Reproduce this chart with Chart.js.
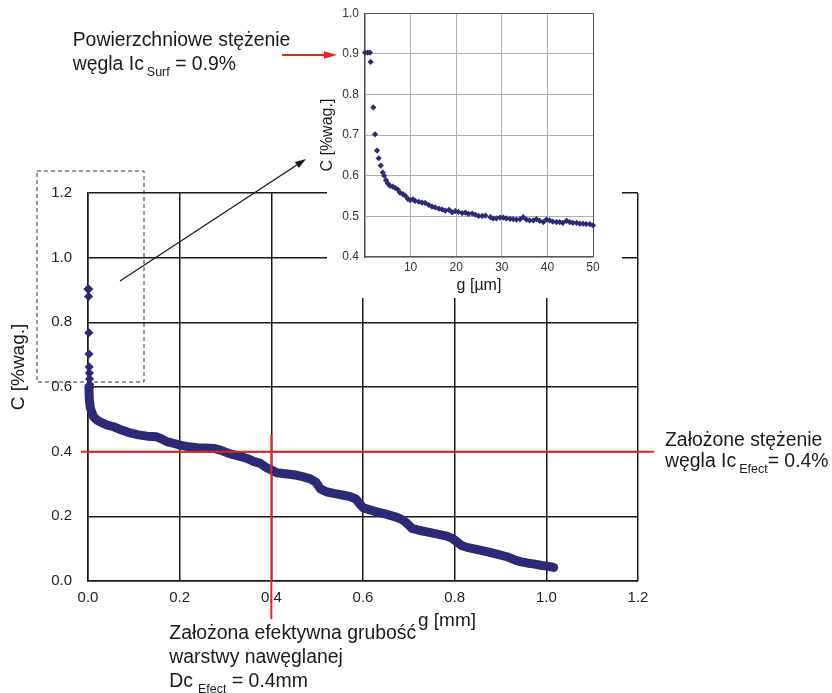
<!DOCTYPE html>
<html>
<head>
<meta charset="utf-8">
<script src="https://cdn.jsdelivr.net/npm/chart.js@4.4.1/dist/chart.umd.min.js"></script>
<style>
  html, body { margin: 0; padding: 0; background: #fff; }
  #page { position: relative; width: 832px; height: 693px; overflow: hidden;
          font-family: 'Liberation Sans', Arial, sans-serif; color: #1a1a1a; }
  #main { position: absolute; left: 0; top: 0; }
  #inset { position: absolute; left: 312px; top: 0; }
  .note { position: absolute; font-size: 19.4px; white-space: nowrap; }
  .note sub { font-size: 12.5px; vertical-align: -6px; line-height: 0; margin-left: 3px; }
  .axis-title { position: absolute; font-size: 19px; white-space: nowrap; line-height: 22px; }
</style>
</head>
<body>
<div id="page">
  <canvas id="main" width="832" height="693"></canvas>
  <canvas id="inset" width="310" height="298"></canvas>

  <div class="axis-title" style="left:-42.5px; top:355.5px; width:120px; text-align:center; transform:rotate(-90deg);">C [%wag.]</div>
  <div class="axis-title" style="left:418px; top:609px;">g [mm]</div>

  <div class="note" style="left:72.7px; top:27.4px; line-height:24px;">Powierzchniowe stężenie<br>węgla Ic<sub>Surf</sub> = 0.9%</div>
  <div class="note" style="left:665px; top:429px; line-height:21px;">Założone stężenie<br>węgla Ic<sub>Efect</sub>= 0.4%</div>
  <div class="note" style="left:169.3px; top:620.4px; line-height:24px;">Założona efektywna grubość<br>warstwy nawęglanej<br>Dc<sub style="margin-left:5px">Efect</sub> = 0.4mm</div>
</div>

<script>
// inset: first 50 µm of the profile (depth in µm, carbon in %wag.)
const insetDepthUm = [0.0, 0.6, 1.1, 1.24, 1.82, 2.19, 2.63, 3.0, 3.45, 3.9, 4.2, 4.6, 5.0, 5.5, 6.1, 6.6,
  7.2, 7.7, 8.3, 8.8, 9.4, 9.9, 10.5, 11.0, 11.8, 12.5, 13.2, 14.0, 14.7, 15.4, 16.2, 16.9, 17.6, 18.4,
  19.1, 19.8, 20.5, 21.3, 22.0, 22.7, 23.5, 24.2, 24.9, 25.7, 26.4, 27.5, 28.1, 28.8, 29.6, 30.3, 31.0,
  31.8, 32.5, 33.2, 34.0, 34.7, 35.4, 36.1, 36.9, 37.6, 38.3, 39.1, 39.8, 40.5, 41.2, 42.0, 42.7, 43.4,
  44.2, 44.9, 45.6, 46.4, 47.1, 47.8, 48.5, 49.3, 50.0];
const insetCarbon = [0.903, 0.903, 0.903, 0.880, 0.768, 0.702, 0.662, 0.643, 0.625, 0.608, 0.600, 0.589,
  0.581, 0.575, 0.573, 0.570, 0.566, 0.558, 0.555, 0.551, 0.543, 0.540, 0.542, 0.538, 0.536, 0.534, 0.533,
  0.528, 0.524, 0.522, 0.519, 0.517, 0.514, 0.516, 0.510, 0.513, 0.511, 0.508, 0.509, 0.506, 0.507, 0.504,
  0.501, 0.501, 0.502, 0.498, 0.495, 0.495, 0.497, 0.497, 0.495, 0.494, 0.493, 0.492, 0.493, 0.498, 0.492,
  0.490, 0.490, 0.493, 0.489, 0.486, 0.492, 0.490, 0.487, 0.486, 0.486, 0.484, 0.489, 0.486, 0.484, 0.484,
  0.482, 0.482, 0.481, 0.481, 0.478];

// main chart: dense measurement band (depth in mm, carbon in %wag.)
const bandDepthMm = [0.002, 0.003, 0.005, 0.012, 0.020, 0.027, 0.040, 0.056, 0.075, 0.092, 0.110, 0.129,
  0.150, 0.160, 0.172, 0.186, 0.201, 0.220, 0.238, 0.256, 0.274, 0.289, 0.310, 0.330, 0.347, 0.361, 0.376,
  0.390, 0.398, 0.412, 0.435, 0.456, 0.470, 0.485, 0.497, 0.507, 0.520, 0.536, 0.555, 0.572, 0.585, 0.592,
  0.601, 0.615, 0.630, 0.652, 0.674, 0.685, 0.692, 0.707, 0.722, 0.739, 0.760, 0.783, 0.795, 0.805, 0.815,
  0.827, 0.850, 0.870, 0.892, 0.914, 0.930, 0.943, 0.960, 0.972, 0.990, 1.001, 1.016];
const bandCarbon = [0.600, 0.560, 0.535, 0.508, 0.497, 0.492, 0.483, 0.477, 0.466, 0.458, 0.452, 0.448,
  0.446, 0.440, 0.431, 0.426, 0.420, 0.415, 0.412, 0.411, 0.410, 0.405, 0.393, 0.386, 0.379, 0.370, 0.364,
  0.350, 0.345, 0.335, 0.331, 0.327, 0.322, 0.316, 0.306, 0.285, 0.276, 0.271, 0.266, 0.261, 0.253, 0.240,
  0.226, 0.220, 0.214, 0.206, 0.197, 0.190, 0.183, 0.163, 0.157, 0.152, 0.146, 0.139, 0.132, 0.121, 0.110,
  0.104, 0.097, 0.091, 0.083, 0.075, 0.066, 0.060, 0.055, 0.053, 0.048, 0.046, 0.042];

// assumed effective values marked with red lines
const icSurf = 0.9;
const icEfect = 0.4;
const dcEfect = 0.4;

const navy = '#2c2a76';
const red = '#e3241f';
const ink = '#1a1a1a';
const fontFamily = "'Liberation Sans', Arial, sans-serif";

// sparse near-surface diamonds in the main chart come from the inset readings
const surfacePoints = [];
insetDepthUm.forEach((d, i) => {
  if (d <= 4.2) surfacePoints.push({x: d / 1000, y: insetCarbon[i]});
});
const bandPoints = bandDepthMm.map((d, i) => ({x: d, y: bandCarbon[i]}));
const insetPoints = insetDepthUm.map((d, i) => ({x: d, y: insetCarbon[i]}));

function arrow(ctx, x1, y1, x2, y2, color, width, headLen, headW) {
  const a = Math.atan2(y2 - y1, x2 - x1);
  const bx = x2 - headLen * Math.cos(a);
  const by = y2 - headLen * Math.sin(a);
  ctx.strokeStyle = color;
  ctx.fillStyle = color;
  ctx.lineWidth = width;
  ctx.beginPath();
  ctx.moveTo(x1, y1);
  ctx.lineTo(bx, by);
  ctx.stroke();
  ctx.beginPath();
  ctx.moveTo(x2, y2);
  ctx.lineTo(bx + headW * Math.sin(a), by - headW * Math.cos(a));
  ctx.lineTo(bx - headW * Math.sin(a), by + headW * Math.cos(a));
  ctx.closePath();
  ctx.fill();
}

const mainDecor = {
  id: 'mainDecor',
  afterDraw(chart) {
    const {ctx, chartArea, scales: {x, y}} = chart;
    ctx.save();
    // white panel the inset sits on
    ctx.fillStyle = '#fff';
    ctx.fillRect(327, 0, 295, 298);

    // dashed frame of the zoomed region
    ctx.strokeStyle = '#333';
    ctx.lineWidth = 1;
    ctx.setLineDash([4, 3]);
    ctx.strokeRect(37, 171, 107, 211);
    ctx.setLineDash([]);

    // pointers
    arrow(ctx, 120, 281, 306, 159, ink, 1.3, 11, 3.5);
    arrow(ctx, 282, 55, 337, 55, red, 2, 13, 3.8);

    // effective concentration and depth
    ctx.strokeStyle = red;
    ctx.lineWidth = 2;
    const yc = y.getPixelForValue(icEfect);
    ctx.beginPath();
    ctx.moveTo(chartArea.left - 7, yc);
    ctx.lineTo(chartArea.right + 16, yc);
    ctx.stroke();
    const xd = x.getPixelForValue(dcEfect);
    ctx.beginPath();
    ctx.moveTo(xd, y.getPixelForValue(0.452));
    ctx.lineTo(xd, chartArea.bottom + 38);
    ctx.stroke();
    ctx.restore();
  }
};

new Chart(document.getElementById('main'), {
  type: 'scatter',
  data: {
    datasets: [
      {
        data: bandPoints,
        showLine: true,
        borderColor: navy,
        borderWidth: 9,
        borderCapStyle: 'round',
        borderJoinStyle: 'round',
        pointRadius: 0,
        clip: false
      },
      {
        data: surfacePoints,
        pointStyle: 'rectRot',
        pointRadius: 4.6,
        backgroundColor: navy,
        borderWidth: 0,
        clip: false
      }
    ]
  },
  options: {
    responsive: false,
    animation: false,
    events: [],
    layout: {padding: {left: 0, top: 193, right: 194, bottom: 0}},
    plugins: {legend: {display: false}, tooltip: {enabled: false}},
    scales: {
      x: {
        type: 'linear', min: 0, max: 1.2,
        ticks: {stepSize: 0.2, padding: 8, color: '#222', font: {family: fontFamily, size: 15},
          callback: v => v.toFixed(1)},
        grid: {color: ink, lineWidth: 1.5, drawTicks: false},
        border: {color: ink, width: 1.5},
        afterFit: s => { s.height = 112; }
      },
      y: {
        type: 'linear', min: 0, max: 1.2,
        ticks: {stepSize: 0.2, padding: 16, color: '#222', font: {family: fontFamily, size: 15},
          callback: v => v.toFixed(1)},
        grid: {color: ink, lineWidth: 1.5, drawTicks: false},
        border: {color: ink, width: 1.5},
        afterFit: s => { s.width = 88; }
      }
    }
  },
  plugins: [mainDecor]
});

new Chart(document.getElementById('inset'), {
  type: 'scatter',
  data: {
    datasets: [{
      data: insetPoints,
      pointStyle: 'rectRot',
      pointRadius: 3.1,
      backgroundColor: navy,
      borderWidth: 0,
      clip: false
    }]
  },
  options: {
    responsive: false,
    animation: false,
    events: [],
    layout: {padding: {left: 0, top: 13, right: 29, bottom: 0}},
    plugins: {legend: {display: false}, tooltip: {enabled: false}},
    scales: {
      x: {
        type: 'linear', min: 0, max: 50,
        ticks: {stepSize: 10, padding: 3, color: '#333', font: {family: fontFamily, size: 12},
          callback: v => (v === 0 ? '' : v)},
        grid: {color: c => (c.tick && c.tick.value === 50 ? '#555' : '#b0b0b0'), lineWidth: 1, drawTicks: false},
        border: {color: '#555', width: 1.2},
        title: {display: true, text: 'g [µm]', color: ink, padding: {top: 0, bottom: 2.4},
          font: {family: fontFamily, size: 16}},
        afterFit: s => { s.height = 41; }
      },
      y: {
        type: 'linear', min: 0.4, max: 1.0,
        ticks: {stepSize: 0.1, padding: 6, color: '#333', font: {family: fontFamily, size: 12},
          callback: v => v.toFixed(1)},
        grid: {color: c => (c.tick && Math.abs(c.tick.value - 1) < 1e-6 ? '#555' : '#b0b0b0'), lineWidth: 1, drawTicks: false},
        border: {color: '#555', width: 1.2},
        title: {display: true, text: 'C [%wag.]', color: ink, padding: {top: 6, bottom: 0},
          font: {family: fontFamily, size: 16}},
        afterFit: s => { s.width = 53; }
      }
    }
  }
});
</script>
</body>
</html>
